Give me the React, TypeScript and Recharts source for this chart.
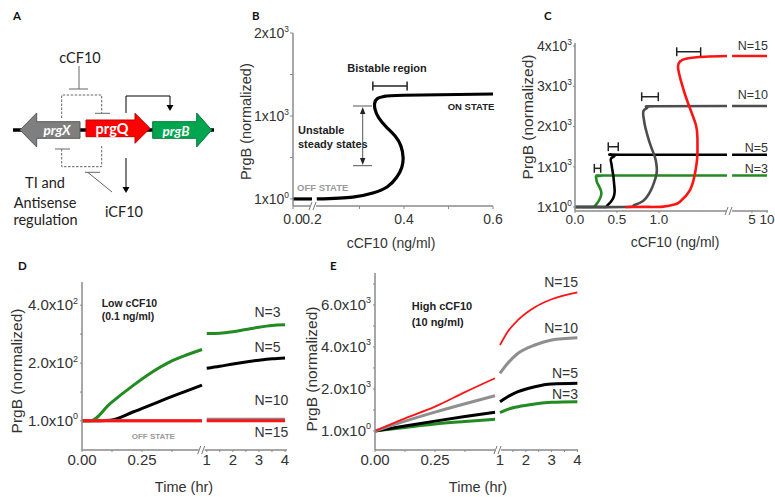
import React from "react";
import { Line, LineChart, ReferenceLine, XAxis, YAxis } from "recharts";

const ARIAL = "'Liberation Sans', Arial, sans-serif";
const CAL = "Lato, 'Liberation Sans', sans-serif";
const TXT = "#333";
const AX = "#8a8a8a";
const GREEN = "#228b22";
const RED = "#ff1414";

// ---- B: steady state PrgB vs cCF10 ----
const bOffX = [0, 0.2];
const bOffY = [1, 1];
const bCurveX = [0.204, 0.285, 0.33, 0.362, 0.384, 0.395, 0.398, 0.393, 0.38, 0.36, 0.343, 0.335, 0.334, 0.34, 0.355, 0.4, 0.6];
const bCurveY = [1, 24, 72, 145, 265, 380, 500, 640, 760, 870, 980, 1080, 1150, 1210, 1235, 1250, 1265];
const bBistable = [0.33, 0.407];
const bBistableY = 1361;

// ---- C: steady state for N = 3, 5, 10, 15 ----
const cN3X = [0, 0.19, 0.235, 0.262, 0.29, 0.312, 0.31, 0.285, 0.258, 0.252, 0.265, 0.31, 0.4, 1.81];
const cN3Y = [1, 1, 20, 90, 180, 300, 400, 520, 640, 720, 770, 782, 782, 782];
const cN5X = [0, 0.33, 0.38, 0.425, 0.46, 0.47, 0.472, 0.465, 0.455, 0.44, 0.43, 0.432, 0.46, 0.54, 1.81];
const cN5Y = [1, 1, 25, 124, 250, 340, 420, 590, 790, 980, 1110, 1210, 1290, 1300, 1300];
const cN10X = [0, 0.6, 0.7, 0.81, 0.9, 0.94, 0.972, 0.97, 0.95, 0.905, 0.86, 0.83, 0.815, 0.82, 0.86, 0.95, 1.81];
const cN10Y = [1, 1, 40, 150, 400, 600, 840, 1050, 1250, 1500, 1800, 2050, 2250, 2400, 2480, 2505, 2509];
const cN15X = [0.6, 0.85, 1.05, 1.18, 1.25, 1.369, 1.429, 1.456, 1.458, 1.44, 1.345, 1.262, 1.226, 1.25, 1.333, 1.548, 1.81];
const cN15Y = [1, 3, 10, 60, 132, 422, 837, 1249, 1664, 2037, 2583, 3130, 3478, 3614, 3689, 3733, 3751];
const cRightX = [2, 10];
const cPlateau = [782, 1300, 2509, 3751];
const cBistableLo = [0.23, 0.396, 0.794, 1.211];
const cBistableHi = [0.306, 0.515, 0.992, 1.496];
const cBistableY = [961, 1498, 2740, 3858];

// ---- D: low cCF10 time course ----
const dLeftX = [0, 0.035, 0.118, 0.215, 0.285, 0.354, 0.423, 0.5];
const dN3Left = [1, 1, 61, 124, 165, 199, 224, 247];
const dN5Left = [1, 1, 3, 32, 55, 78, 100, 124];
const dN10Left = [1, 1, 1, 1, 1, 1, 1, 1];
const dN15Left = [1, 1, 1, 1, 1, 1, 1, 1];
const dRightX = [1, 1.5, 2, 2.5, 3, 3.5, 4];
const dN3Right = [302, 303, 308, 316, 324, 330, 332];
const dN5Right = [182, 189, 197, 204, 210, 215, 218];
const dN10Right = [6, 6, 6, 6, 6, 6, 6];
const dN15Right = [1, 1, 1, 1, 1, 1, 1];

// ---- E: high cCF10 time course ----
const eLeftX = [0, 0.125, 0.25, 0.375, 0.5];
const eN3Left = [1, 170, 333, 450, 557];
const eN5Left = [1, 240, 470, 690, 890];
const eN10Left = [1, 470, 900, 1300, 1680];
const eN15Left = [1, 600, 1157, 1850, 2509];
const eRightX = [1, 1.3, 1.7, 2.35, 3, 4];
const eN3Right = [871, 1033, 1157, 1285, 1366, 1395];
const eN5Right = [1395, 1633, 1871, 2109, 2237, 2271];
const eN10Right = [2746, 3222, 3699, 4094, 4332, 4442];
const eN15Right = [4094, 4727, 5284, 5888, 6269, 6602];

// broken-axis mappings
const tBPre = (x: number) => 0.1506 + x * 0.2135;
const same = (x: number) => x;
const tCR = (x: number) => 1.865 + 0.595 * Math.log10(x / 1.96);
const tDR = (x: number) => 0.5196 + (x - 1) * 0.10875;
const tER = (x: number) => 0.5208 + (x - 1) * 0.1075;

const pts = (xs: number[], ys: number[], map: (x: number) => number) =>
  xs.map((x, i) => ({ x: map(x), y: ys[i] }));

// ticks
const bXTickPos = [tBPre(0), tBPre(0.2), 0.3, 0.4, 0.5, 0.6];
const bXTickLab = ["0.0", "0.2", "", "0.4", "", "0.6"];
const bYTickPos = [1, 500, 1000, 1500, 2000];
const bYTickLab = [["1x10", "0"], null, ["1x10", "3"], null, ["2x10", "3"]];

const cXTickPos = [0, 0.5, 1, tCR(5), tCR(10)];
const cXTickLab = ["0.0", "0.5", "1.0", "5", "10"];
const cYTickPos = [1, 1000, 2000, 3000, 4000];
const cYTickLab = [["1x10", "0"], ["1x10", "3"], ["2x10", "3"], ["3x10", "3"], ["4x10", "3"]];

const dXTickPos = [0, 0.125, 0.25, 0.375, tDR(1), tDR(1.5), tDR(2), tDR(2.5), tDR(3), tDR(3.5), tDR(4)];
const dXTickLab = ["0.00", "", "0.25", "", "1", "", "2", "", "3", "", "4"];
const dYTickPos = [1, 100, 200, 300, 400];
const dYTickLab = [["1.0x10", "0"], null, ["2.0x10", "2"], null, ["4.0x10", "2"]];

const eXTickPos = [0, 0.125, 0.25, 0.375, tER(1), tER(1.5), tER(2), tER(2.5), tER(3), tER(3.5), tER(4)];
const eXTickLab = ["0.00", "", "0.25", "", "1", "", "2", "", "3", "", "4"];
const eYTickPos = [1, 1000, 2000, 3000, 4000, 5000, 6000, 7000];
const eYTickLab = [["1.0x10", "0"], null, ["2.0x10", "3"], null, ["4.0x10", "3"], null, ["6.0x10", "3"], null];

const findIdx = (pos: number[], v: number) => pos.findIndex((p) => Math.abs(p - v) < 1e-6);

const xTick = (pos: number[], labels: string[], fs: number, dy: number) => (p: any) => {
  const i = findIdx(pos, p.payload.value);
  const s = i >= 0 ? labels[i] : "";
  if (!s) return <g />;
  return (
    <text x={p.x} y={p.y} dy={dy} textAnchor="middle" fontSize={fs} fill={TXT} fontFamily={ARIAL}>
      {s}
    </text>
  );
};

const yTick = (pos: number[], labels: (string[] | null)[], fs: number) => (p: any) => {
  const i = findIdx(pos, p.payload.value);
  const lab = i >= 0 ? labels[i] : null;
  if (!lab) return <g />;
  return (
    <text x={p.x} y={p.y} dy={fs * 0.35} textAnchor="end" fontSize={fs} fill={TXT} fontFamily={ARIAL}>
      {lab[0]}
      <tspan dy={-fs * 0.45} fontSize={fs * 0.6}>
        {lab[1]}
      </tspan>
    </text>
  );
};

const axisLine = { stroke: AX, strokeWidth: 1.5 };
const tickLine = { stroke: AX };

function PanelB() {
  return (
    <LineChart width={290} height={260} margin={{ top: 33, right: 17, bottom: 24, left: 0 }}>
      <XAxis type="number" dataKey="x" domain={[tBPre(0), 0.6]} ticks={bXTickPos} interval={0}
        tick={xTick(bXTickPos, bXTickLab, 14, 12.6)} tickSize={3} tickMargin={2} height={30}
        axisLine={axisLine} tickLine={tickLine} allowDataOverflow />
      <YAxis type="number" dataKey="y" domain={[-84, 2000]} ticks={bYTickPos} interval={0}
        tick={yTick(bYTickPos, bYTickLab, 14)} tickSize={3} tickMargin={1} width={73}
        axisLine={axisLine} tickLine={tickLine} allowDataOverflow />
      <Line data={pts(bOffX, bOffY, tBPre)} dataKey="y" type="linear" stroke="#000" strokeWidth={3.2} dot={false} isAnimationActive={false} />
      <Line data={pts(bCurveX, bCurveY, same)} dataKey="y" type="natural" stroke="#000" strokeWidth={3.2} dot={false} isAnimationActive={false} />
      <ReferenceLine segment={[{ x: bBistable[0], y: bBistableY }, { x: bBistable[1], y: bBistableY }]} stroke="#222" strokeWidth={1.5} />
      <ReferenceLine segment={[{ x: bBistable[0], y: bBistableY - 55 }, { x: bBistable[0], y: bBistableY + 55 }]} stroke="#222" strokeWidth={1.5} />
      <ReferenceLine segment={[{ x: bBistable[1], y: bBistableY - 55 }, { x: bBistable[1], y: bBistableY + 55 }]} stroke="#222" strokeWidth={1.5} />
    </LineChart>
  );
}

function PanelC() {
  const cols = [GREEN, "#000", "#4d4d4d", RED];
  const left = [pts(cN3X, cN3Y, same), pts(cN5X, cN5Y, same), pts(cN10X, cN10Y, same), pts(cN15X, cN15Y, same)];
  return (
    <LineChart width={265} height={260} margin={{ top: 43, right: 7, bottom: 19, left: 0 }}>
      <XAxis type="number" dataKey="x" domain={[0, 2.298]} ticks={cXTickPos} interval={0}
        tick={xTick(cXTickPos, cXTickLab, 13.5, 11)} tickSize={2} tickMargin={0} height={30}
        axisLine={axisLine} tickLine={tickLine} allowDataOverflow />
      <YAxis type="number" dataKey="y" domain={[-99, 4075]} ticks={cYTickPos} interval={0}
        tick={yTick(cYTickPos, cYTickLab, 14)} tickSize={2} tickMargin={1} width={65}
        axisLine={axisLine} tickLine={tickLine} allowDataOverflow />
      {left.map((d, i) => (
        <Line key={"l" + i} data={d} dataKey="y" type="natural" stroke={cols[i]} strokeWidth={2.6} dot={false} isAnimationActive={false} />
      ))}
      {cPlateau.map((v, i) => (
        <Line key={"r" + i} data={pts(cRightX, [v, v], tCR)} dataKey="y" type="linear" stroke={cols[i]} strokeWidth={2.6} dot={false} isAnimationActive={false} />
      ))}
      {cBistableY.map((y, i) => (
        <ReferenceLine key={"b" + i} segment={[{ x: cBistableLo[i], y }, { x: cBistableHi[i], y }]} stroke="#222" strokeWidth={1.5} />
      ))}
      {cBistableY.map((y, i) => (
        <ReferenceLine key={"bl" + i} segment={[{ x: cBistableLo[i], y: y - 110 }, { x: cBistableLo[i], y: y + 110 }]} stroke="#222" strokeWidth={1.5} />
      ))}
      {cBistableY.map((y, i) => (
        <ReferenceLine key={"bh" + i} segment={[{ x: cBistableHi[i], y: y - 110 }, { x: cBistableHi[i], y: y + 110 }]} stroke="#222" strokeWidth={1.5} />
      ))}
    </LineChart>
  );
}

function PanelD() {
  const cols = [GREEN, "#000", "#888", RED];
  const left = [dN3Left, dN5Left, dN10Left, dN15Left];
  const right = [dN3Right, dN5Right, dN10Right, dN15Right];
  return (
    <LineChart width={300} height={247} margin={{ top: 32, right: 13, bottom: 17, left: 0 }}>
      <XAxis type="number" dataKey="x" domain={[0, 0.854]} ticks={dXTickPos} interval={0}
        tick={xTick(dXTickPos, dXTickLab, 15, 12.7)} tickSize={2} tickMargin={0} height={30}
        axisLine={axisLine} tickLine={tickLine} allowDataOverflow />
      <YAxis type="number" dataKey="y" domain={[-100, 480]} ticks={dYTickPos} interval={0}
        tick={yTick(dYTickPos, dYTickLab, 15)} tickSize={2} tickMargin={2} width={82}
        axisLine={axisLine} tickLine={tickLine} allowDataOverflow />
      {left.map((ys, i) => (
        <Line key={"l" + i} data={pts(dLeftX, ys, same)} dataKey="y" type="monotone" stroke={cols[i]} strokeWidth={3} dot={false} isAnimationActive={false} />
      ))}
      {right.map((ys, i) => (
        <Line key={"r" + i} data={pts(dRightX, ys, tDR)} dataKey="y" type="monotone" stroke={cols[i]} strokeWidth={3} dot={false} isAnimationActive={false} />
      ))}
    </LineChart>
  );
}

function PanelE() {
  const cols = [GREEN, "#000", "#8f8f8f", RED];
  const widths = [3, 3, 3, 1.8];
  const left = [eN3Left, eN5Left, eN10Left, eN15Left];
  const right = [eN3Right, eN5Right, eN10Right, eN15Right];
  return (
    <LineChart width={290} height={247} margin={{ top: 23, right: 7, bottom: 17, left: 0 }}>
      <XAxis type="number" dataKey="x" domain={[0, 0.8458]} ticks={eXTickPos} interval={0}
        tick={xTick(eXTickPos, eXTickLab, 15, 12.7)} tickSize={2} tickMargin={0} height={30}
        axisLine={axisLine} tickLine={tickLine} allowDataOverflow />
      <YAxis type="number" dataKey="y" domain={[-904, 7520]} ticks={eYTickPos} interval={0}
        tick={yTick(eYTickPos, eYTickLab, 15)} tickSize={2} tickMargin={2} width={80}
        axisLine={axisLine} tickLine={tickLine} allowDataOverflow />
      {left.map((ys, i) => (
        <Line key={"l" + i} data={pts(eLeftX, ys, same)} dataKey="y" type="monotone" stroke={cols[i]} strokeWidth={widths[i]} dot={false} isAnimationActive={false} />
      ))}
      {right.map((ys, i) => (
        <Line key={"r" + i} data={pts(eRightX, ys, tER)} dataKey="y" type="monotone" stroke={cols[i]} strokeWidth={widths[i]} dot={false} isAnimationActive={false} />
      ))}
    </LineChart>
  );
}

function Break({ x, y }: { x: number; y: number }) {
  return (
    <g>
      <rect x={x - 3} y={y - 3} width={6} height={6} fill="#fff" />
      <line x1={x - 4} y1={y + 4} x2={x - 1} y2={y - 4} stroke="#777" />
      <line x1={x} y1={y + 4} x2={x + 3} y2={y - 4} stroke="#777" />
    </g>
  );
}

function YTitle({ x, y, size }: { x: number; y: number; size: number }) {
  return (
    <text transform={`translate(${x},${y}) rotate(-90)`} textAnchor="middle" dominantBaseline="central"
      fontSize={size} fill={TXT} fontFamily={ARIAL}>
      PrgB (normalized)
    </text>
  );
}

function Overlay() {
  const dash = "2.5,1.5";
  return (
    <svg width={775} height={497} style={{ position: "absolute", left: 0, top: 0, pointerEvents: "none" }}>
      {/* panel letters */}
      <g fontFamily={CAL} fontWeight="bold" fontSize={11.5} fill="#111">
        <text x={13} y={19.5}>A</text>
        <text x={252} y={19.5}>B</text>
        <text x={544} y={19.5}>C</text>
        <text x={18} y={269.5}>D</text>
        <text x={330} y={269.5}>E</text>
      </g>

      {/* A: gene circuit */}
      <line x1={13} y1={130} x2={214} y2={130} stroke="#000" strokeWidth={3.5} />
      <polygon points="20,130 36.7,113 36.7,121.7 80,121.7 80,138.3 36.7,138.3 36.7,147" fill="#7f7f7f" stroke="#595959" />
      <polygon points="86,120 135,120 135,113.3 150,128.3 135,143.3 135,136.7 86,136.7" fill="#ff0000" stroke="#c00000" />
      <polygon points="152.7,121.7 196.7,121.7 196.7,113 211.7,130 196.7,147 196.7,138.3 152.7,138.3" fill="#00a550" stroke="#00793a" />
      <g fontFamily={CAL} fontWeight="bold" fill="#fff" textAnchor="middle">
        <text x={57} y={135} fontSize={13.5} fontStyle="italic">prgX</text>
        <text x={112} y={133.5} fontSize={14.5}>prgQ</text>
        <text x={176} y={135.5} fontSize={13.5} fontStyle="italic">prgB</text>
      </g>
      <g stroke="#666" strokeWidth={1} fill="none">
        <line x1={79} y1={66} x2={79} y2={89} />
        <line x1={69} y1={89} x2={88} y2={89} />
        <path d="M61.7,118 V95 H101.7 V113" strokeDasharray={dash} />
        <line x1={95} y1={113.3} x2={110} y2={113.3} />
        <path d="M61.7,149 V166.7 H101.7 V146" strokeDasharray={dash} />
        <line x1={55} y1={149} x2={70} y2={149} />
        <line x1={88} y1={172.5} x2={112} y2={192} />
        <line x1={85} y1={172.3} x2={100} y2={172.3} />
      </g>
      <path d="M126,113 V96 H170 V106" stroke="#000" fill="none" />
      <polygon points="166.5,105 173.5,105 170,111" fill="#000" />
      <line x1={126} y1={158} x2={126} y2={188} stroke="#000" />
      <polygon points="122.5,187 129.5,187 126,193" fill="#000" />
      <g fontFamily={CAL} fontSize={14.5} fill="#222" textAnchor="middle">
        <text x={80} y={63.3}>cCF10</text>
        <text x={124} y={216.7}>iCF10</text>
        <text x={45} y={188.3}>TI and</text>
        <text x={45} y={208.3}>Antisense</text>
        <text x={45.5} y={224.5}>regulation</text>
      </g>

      {/* B annotations */}
      <YTitle x={245.5} y={121.7} size={14.5} />
      <text x={391} y={248} textAnchor="middle" fontSize={14} fill={TXT} fontFamily={ARIAL}>cCF10 (ng/ml)</text>
      <g fontFamily={ARIAL} fontWeight="bold" fill="#222">
        <text x={387} y={71.7} fontSize={11} textAnchor="middle">Bistable region</text>
        <text x={298} y={134} fontSize={11}>Unstable</text>
        <text x={298} y={148} fontSize={11}>steady states</text>
        <text x={447.7} y={110} fontSize={9.5}>ON STATE</text>
        <text x={297} y={190.7} fontSize={9.5} fill="#9a9a9a">OFF STATE</text>
      </g>
      <g stroke="#555" strokeWidth={1}>
        <line x1={353} y1={106} x2={372} y2={106} />
        <line x1={353} y1={165.7} x2={372} y2={165.7} />
        <line x1={362.7} y1={110} x2={362.7} y2={162} />
      </g>
      <polygon points="362.7,107 360,114 365.4,114" fill="#222" />
      <polygon points="362.7,165 360,158 365.4,158" fill="#222" />
      <Break x={313} y={206} />

      {/* C annotations */}
      <YTitle x={527.5} y={117} size={15.5} />
      <text x={675} y={247} textAnchor="middle" fontSize={14} fill={TXT} fontFamily={ARIAL}>cCF10 (ng/ml)</text>
      <g fontFamily={ARIAL} fontSize={12.5} fill={TXT} textAnchor="end">
        <text x={768} y={50}>N=15</text>
        <text x={768} y={99.3}>N=10</text>
        <text x={768} y={151.7}>N=5</text>
        <text x={768} y={173.3}>N=3</text>
      </g>
      <Break x={729} y={211} />

      {/* D annotations */}
      <YTitle x={16} y={371} size={15.5} />
      <text x={184} y={491.7} textAnchor="middle" fontSize={14.5} fill={TXT} fontFamily={ARIAL}>Time (hr)</text>
      <g fontFamily={ARIAL} fontWeight="bold" fill="#222" fontSize={10.5}>
        <text x={101.7} y={307.3}>Low cCF10</text>
        <text x={101.7} y={320}>(0.1 ng/ml)</text>
        <text x={131.7} y={439} fontSize={8} fill="#9a9a9a">OFF STATE</text>
      </g>
      <g fontFamily={ARIAL} fontSize={14} fill={TXT}>
        <text x={254.5} y={316.7}>N=3</text>
        <text x={254.5} y={351.7}>N=5</text>
        <text x={254.5} y={405}>N=10</text>
        <text x={254.5} y={436.7}>N=15</text>
      </g>
      <Break x={201.7} y={450} />

      {/* E annotations */}
      <YTitle x={311} y={369} size={15.5} />
      <text x={478} y={491.7} textAnchor="middle" fontSize={14.5} fill={TXT} fontFamily={ARIAL}>Time (hr)</text>
      <g fontFamily={ARIAL} fontWeight="bold" fill="#222" fontSize={11}>
        <text x={411.7} y={310}>High cCF10</text>
        <text x={411.7} y={326}>(10 ng/ml)</text>
      </g>
      <g fontFamily={ARIAL} fontSize={14} fill={TXT} textAnchor="end">
        <text x={578} y={286.7}>N=15</text>
        <text x={578} y={332.7}>N=10</text>
        <text x={578} y={378.3}>N=5</text>
        <text x={578} y={399}>N=3</text>
      </g>
      <Break x={498} y={450} />
    </svg>
  );
}

export default function App() {
  return (
    <div style={{ position: "absolute", left: 0, top: 0, width: 775, height: 497, background: "#fff", overflow: "hidden" }}>
      <div style={{ position: "absolute", left: 220, top: 0 }}>
        <PanelB />
      </div>
      <div style={{ position: "absolute", left: 510, top: 0 }}>
        <PanelC />
      </div>
      <div style={{ position: "absolute", left: 0, top: 250 }}>
        <PanelD />
      </div>
      <div style={{ position: "absolute", left: 295, top: 250 }}>
        <PanelE />
      </div>
      <Overlay />
    </div>
  );
}
